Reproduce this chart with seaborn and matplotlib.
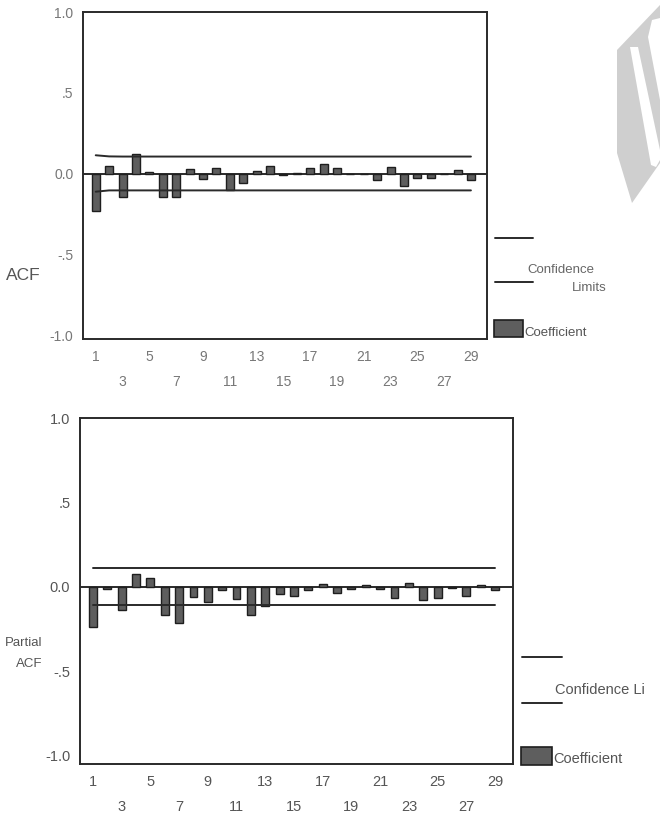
import numpy as np
import pandas as pd
import seaborn as sns
import matplotlib
matplotlib.use("Agg")
import matplotlib.pyplot as plt
from matplotlib.patches import Polygon, Rectangle
from matplotlib.lines import Line2D

# ---------------- data ----------------
lags = list(range(1, 30))
acf = [-0.23, 0.05, -0.14, 0.125, 0.01, -0.145, -0.145, 0.03, -0.03, 0.035,
       -0.10, -0.055, 0.02, 0.05, -0.01, 0.008, 0.035, 0.06, 0.035, 0.0,
       0.0, -0.035, 0.04, -0.075, -0.025, -0.025, 0.0, 0.025, -0.04]
acf_upper = [0.115, 0.108, 0.107, 0.107, 0.107, 0.107, 0.107, 0.107, 0.107, 0.107,
             0.107, 0.107, 0.107, 0.107, 0.107, 0.107, 0.107, 0.107, 0.107, 0.107,
             0.107, 0.107, 0.107, 0.107, 0.107, 0.107, 0.107, 0.107, 0.107]
acf_lower = [-0.11, -0.102, -0.102, -0.102, -0.102, -0.102, -0.102, -0.102, -0.102, -0.102,
             -0.102, -0.102, -0.102, -0.102, -0.102, -0.102, -0.102, -0.102, -0.102, -0.102,
             -0.102, -0.102, -0.102, -0.102, -0.102, -0.102, -0.102, -0.102, -0.102]
pacf = [-0.24, -0.015, -0.14, 0.075, 0.05, -0.165, -0.215, -0.06, -0.09, -0.02,
        -0.075, -0.17, -0.115, -0.04, -0.055, -0.02, 0.015, -0.035, -0.015, 0.012,
        -0.015, -0.065, 0.02, -0.08, -0.065, -0.01, -0.055, 0.01, -0.02]
pacf_limit = 0.11

yticks = [-1.0, -0.5, 0.0, 0.5, 1.0]
ytick_labels = ["-1.0", "-.5", "0.0", ".5", "1.0"]
xticks_row1 = [1, 5, 9, 13, 17, 21, 25, 29]
xticks_row2 = [3, 7, 11, 15, 19, 23, 27]
xlabels_row1 = ["1", "5", "9", "13", "17", "21", "25", "29"]
xlabels_row2 = ["3", "7", "11", "15", "19", "23", "27"]

df_acf = pd.DataFrame({"lag": lags, "coef": acf, "upper": acf_upper, "lower": acf_lower})
df_pacf = pd.DataFrame({"lag": lags, "coef": pacf,
                        "upper": [pacf_limit] * len(lags),
                        "lower": [-pacf_limit] * len(lags)})

# ---------------- style ----------------
sns.set_style("white")
plt.rcParams["font.family"] = ["Liberation Sans", "DejaVu Sans"]

W, H = 660, 821
fig = plt.figure(figsize=(W / 100, H / 100), dpi=100)


def fx(x):
    return x / W


def fy(y):
    return 1 - y / H


BAR_FACE = "#5e5e5e"
BAR_EDGE = "#1e1e1e"
LINE_C = "#2a2a2a"


def draw_panel(ax, df, xlim, ylim, width, lab_color, fs):
    sns.barplot(data=df, x="lag", y="coef", native_scale=True, width=width,
                color=BAR_FACE, saturation=1, edgecolor=BAR_EDGE, linewidth=1.0,
                errorbar=None, ax=ax, zorder=3)
    sns.lineplot(data=df, x="lag", y="upper", color=LINE_C, lw=1.4, ax=ax, zorder=4)
    sns.lineplot(data=df, x="lag", y="lower", color=LINE_C, lw=1.4, ax=ax, zorder=4)
    ax.axhline(0, color=LINE_C, lw=1.4, zorder=2)
    ax.set_xlim(*xlim)
    ax.set_ylim(*ylim)
    ax.set_xlabel("")
    ax.set_ylabel("")
    ax.set_yticks(yticks)
    ax.set_yticklabels(ytick_labels, color=lab_color, fontsize=fs)
    ax.set_xticks(xticks_row1)
    ax.set_xticklabels(xlabels_row1, color=lab_color, fontsize=fs)
    ax.set_xticks(xticks_row2, minor=True)
    ax.set_xticklabels(xlabels_row2, minor=True, color=lab_color, fontsize=fs)
    ax.tick_params(axis="y", which="major", direction="out", length=3, width=3,
                   color="#111111", pad=4)
    ax.tick_params(axis="x", which="major", direction="out", length=3, width=3,
                   color="#111111", pad=5)
    ax.tick_params(axis="x", which="minor", direction="out", length=3, width=3,
                   color="#111111", pad=23)
    for s in ax.spines.values():
        s.set_visible(True)
        s.set_color(LINE_C)
        s.set_linewidth(1.4)
    ax.grid(False)


# top panel (ACF)
ax1 = fig.add_axes([fx(83), fy(339), fx(487) - fx(83), fy(12) - fy(339)])
draw_panel(ax1, df_acf, (0.05, 30.2), (-1.02, 1.0), 0.6, "#777777", 10)

# bottom panel (Partial ACF)
ax2 = fig.add_axes([fx(80), fy(764), fx(513) - fx(80), fy(418) - fy(764)])
draw_panel(ax2, df_pacf, (0.1, 30.25), (-1.05, 1.0), 0.55, "#555555", 10.5)

# y labels
fig.text(fx(23), fy(276), "ACF", fontsize=12.5, color="#555555", ha="center", va="center")
fig.text(fx(42), fy(643), "Partial", fontsize=9.5, color="#555555", ha="right", va="center")
fig.text(fx(42), fy(664), "ACF", fontsize=9.5, color="#555555", ha="right", va="center")

# legends (top)
fig.add_artist(Line2D([fx(495), fx(533)], [fy(238), fy(238)], color=LINE_C, lw=1.4))
fig.add_artist(Line2D([fx(495), fx(533)], [fy(282), fy(282)], color=LINE_C, lw=1.4))
fig.text(fx(527), fy(270), "Confidence", fontsize=9.5, color="#666666", ha="left", va="center")
fig.text(fx(607), fy(288), "Limits", fontsize=9.5, color="#666666", ha="right", va="center")
fig.add_artist(Rectangle((fx(494), fy(337)), fx(523) - fx(494), fy(320) - fy(337),
                         facecolor=BAR_FACE, edgecolor=BAR_EDGE, lw=1.2))
fig.text(fx(524), fy(333), "Coefficient", fontsize=9.5, color="#555555", ha="left", va="center")

# legends (bottom)
fig.add_artist(Line2D([fx(522), fx(562)], [fy(657), fy(657)], color=LINE_C, lw=1.4))
fig.add_artist(Line2D([fx(522), fx(562)], [fy(703), fy(703)], color=LINE_C, lw=1.4))
fig.text(fx(555), fy(690), "Confidence Li", fontsize=10.5, color="#555555",
         ha="left", va="center")
fig.add_artist(Rectangle((fx(521), fy(765)), fx(552) - fx(521), fy(747) - fy(765),
                         facecolor=BAR_FACE, edgecolor=BAR_EDGE, lw=1.2))
fig.text(fx(553), fy(759), "Coefficient", fontsize=10.5, color="#555555", ha="left", va="center")

# watermark fragment (top right)
wm_outer = [(617, 50), (660, 5), (660, 18), (652, 20), (648, 37), (660, 100),
            (660, 163), (632, 203), (617, 153)]
wm_inner = [(630, 47), (638, 47), (660, 150), (660, 160), (656, 167), (651, 165)]
fig.add_artist(Polygon([(fx(a), fy(b)) for a, b in wm_outer], closed=True,
                       facecolor="#cfcfcf", edgecolor="none"))
fig.add_artist(Polygon([(fx(a), fy(b)) for a, b in wm_inner], closed=True,
                       facecolor="white", edgecolor="none"))

fig.savefig("out.png", dpi=100)
